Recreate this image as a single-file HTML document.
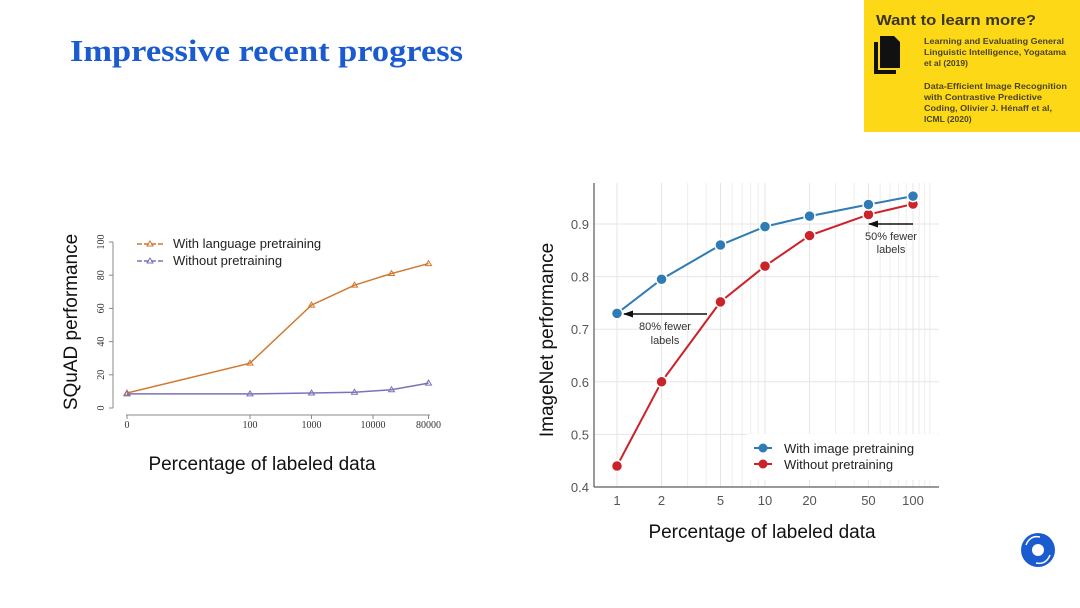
<!DOCTYPE html>
<html><head><meta charset="utf-8"><style>
html,body{margin:0;padding:0;background:#fff;}
svg{display:block;font-family:"Liberation Sans",sans-serif;}
</style></head><body>
<svg id="s" width="1080" height="608" viewBox="0 0 1080 608">
<text x="70" y="61" font-family="Liberation Serif,serif" font-weight="bold" font-size="31" fill="#1a5bd0" textLength="393" lengthAdjust="spacingAndGlyphs">Impressive recent progress</text>
<g>
<rect x="864" y="0" width="216" height="132" fill="#fcd817"/>
<text x="876" y="25" font-size="15" font-weight="bold" fill="#3a3520" textLength="160" lengthAdjust="spacingAndGlyphs">Want to learn more?</text>
<path d="M880 36 h14 l6 6 v26 h-20z" fill="#111"/><path d="M874 42 h4 v28 h18 v4 h-22z" fill="#111"/>
<g font-size="8.5" font-weight="bold" fill="#4a4520">
<text x="924" y="44" textLength="140" lengthAdjust="spacingAndGlyphs">Learning and Evaluating General</text>
<text x="924" y="55" textLength="142" lengthAdjust="spacingAndGlyphs">Linguistic Intelligence, Yogatama</text>
<text x="924" y="66">et al (2019)</text>
<text x="924" y="89" textLength="143" lengthAdjust="spacingAndGlyphs">Data-Efficient Image Recognition</text>
<text x="924" y="100" textLength="118" lengthAdjust="spacingAndGlyphs">with Contrastive Predictive</text>
<text x="924" y="111" textLength="128" lengthAdjust="spacingAndGlyphs">Coding, Olivier J. Hénaff et al,</text>
<text x="924" y="122">ICML (2020)</text>
</g></g>
<g>
<circle cx="1038" cy="550" r="17" fill="#1a5bd0"/><circle cx="1038" cy="550" r="6" fill="#fff"/>
<path d="M1026 545 q4 -10 14 -8" stroke="#fff" stroke-width="1.5" fill="none"/><path d="M1050 555 q-4 10 -14 8" stroke="#fff" stroke-width="1.5" fill="none"/>
</g>
<defs><marker id="ah" markerWidth="10" markerHeight="8" refX="9" refY="4" orient="auto" markerUnits="userSpaceOnUse"><path d="M0 0.5 L10 4 L0 7.5Z" fill="#111"/></marker></defs>
<g id="left"></g>
<g id="right"></g>
</svg>
<script>
const NS="http://www.w3.org/2000/svg";
function mk(p,t,a,txt){const e=document.createElementNS(NS,t);for(const k in a)e.setAttribute(k,a[k]);if(txt!==undefined)e.textContent=txt;p.appendChild(e);return e;}
// Left chart data
const sqX=[1,100,1000,5000,20000,80000];
const sqWith=[9,27,62,74,81,87];
const sqWithout=[8.5,8.5,9,9.5,11,15];
const sqXTicks=["0","100","1000","10000","80000"];
const sqXTickVals=[1,100,1000,10000,80000];
const sqYTicks=[0,20,40,60,80,100];
// Right chart data
const inX=[1,2,5,10,20,50,100];
const inWith=[0.73,0.795,0.86,0.895,0.915,0.937,0.953];
const inWithout=[0.44,0.60,0.752,0.82,0.878,0.918,0.938];
const inYTicks=[0.4,0.5,0.6,0.7,0.8,0.9];

const L=document.getElementById('left');
const lx=v=>127+Math.log10(v)*61.5, ly=v=>408-v*1.66;
let e=mk(L,'line',{x1:126,y1:415,x2:430,y2:415,stroke:'#888'});

sqXTickVals.forEach((v,i)=>{mk(L,'line',{x1:lx(v),y1:415,x2:lx(v),y2:419,stroke:'#888'});
 const t=mk(L,'text',{x:lx(v),y:428,'font-family':'Liberation Serif,serif','font-size':10,'text-anchor':'middle',fill:'#333'},sqXTicks[i]);
 });
e=mk(L,'line',{x1:113,y1:242,x2:113,y2:408,stroke:'#888'});

sqYTicks.forEach(v=>{mk(L,'line',{x1:109,y1:ly(v),x2:113,y2:ly(v),stroke:'#888'});
 const t=mk(L,'text',{x:0,y:0,transform:`translate(104,${ly(v)}) rotate(-90)`,'font-family':'Liberation Serif,serif','font-size':10,'text-anchor':'middle',fill:'#333'},String(v));
 });
[[sqWith,'#d0782f','series-with-pretraining'],[sqWithout,'#7a72b8','series-without-pretraining']].forEach(([d,c,n])=>{
 const g=mk(L,'g',{});
 mk(g,'polyline',{points:d.map((v,i)=>lx(sqX[i])+','+ly(v)).join(' '),fill:'none',stroke:c,'stroke-width':1.5});
 d.forEach((v,i)=>{const x=lx(sqX[i]),y=ly(v);mk(g,'path',{d:`M${x} ${y-3}L${x+3} ${y+2}L${x-3} ${y+2}Z`,fill:'none',stroke:c});});});
[['With language pretraining','#d0782f',244],['Without pretraining','#7a72b8',261]].forEach(([t,c,y])=>{
 const g=mk(L,'g',{});
 mk(g,'line',{x1:137,y1:y,x2:163,y2:y,stroke:c,'stroke-width':1.5,'stroke-dasharray':'5 2'});
 mk(g,'path',{d:`M150 ${y-3}L153 ${y+2}L147 ${y+2}Z`,fill:'none',stroke:c});
 mk(g,'text',{x:173,y:y+4,'font-size':13,fill:'#222'},t);});
e=mk(L,'text',{x:0,y:0,transform:'translate(77,322) rotate(-90)','font-size':19,'text-anchor':'middle',fill:'#111'},'SQuAD performance');

e=mk(L,'text',{x:262,y:470,'font-size':19,'text-anchor':'middle',fill:'#111'},'Percentage of labeled data');


const R=document.getElementById('right');
const rx=v=>617+Math.log10(v)*148, ry=v=>487-(v-0.4)*526;
// grid
for(let d=1;d<=100;d*=10)for(let k=1;k<10;k++){const v=d*k;if(v>100)break;const x=rx(v);
 mk(R,'line',{x1:x,y1:183,x2:x,y2:487,stroke:inX.includes(v)?'#e4e4e4':'#ededed','stroke-width':1});}
for(let k=110;k<=130;k+=10){mk(R,'line',{x1:rx(k),y1:183,x2:rx(k),y2:487,stroke:'#ededed'});}
inYTicks.forEach(v=>{mk(R,'line',{x1:594,y1:ry(v),x2:939,y2:ry(v),stroke:'#e6e6e6'});
 const t=mk(R,'text',{x:589,y:ry(v)+5,'font-size':13,'text-anchor':'end',fill:'#555'},v.toFixed(1));
 });
inX.forEach(v=>{const t=mk(R,'text',{x:rx(v),y:505,'font-size':13,'text-anchor':'middle',fill:'#555'},String(v));
 });
e=mk(R,'line',{x1:594,y1:183,x2:594,y2:487,stroke:'#333'});
e=mk(R,'line',{x1:594,y1:487,x2:939,y2:487,stroke:'#333'});
e=mk(R,'line',{x1:707,y1:314,x2:624,y2:314,stroke:'#111','stroke-width':1.5,'marker-end':'url(#ah)'});
mk(R,'text',{x:665,y:330,'font-size':11,'text-anchor':'middle',fill:'#333'},'80% fewer');
mk(R,'text',{x:665,y:344,'font-size':11,'text-anchor':'middle',fill:'#333'},'labels');
e=mk(R,'line',{x1:913,y1:224,x2:869,y2:224,stroke:'#111','stroke-width':1.5,'marker-end':'url(#ah)'});
mk(R,'text',{x:891,y:240,'font-size':11,'text-anchor':'middle',fill:'#333'},'50% fewer');
mk(R,'text',{x:891,y:253,'font-size':11,'text-anchor':'middle',fill:'#333'},'labels');
[[inWithout,'#cc2229','series-without-pretraining'],[inWith,'#2f7bb5','series-with-pretraining']].forEach(([d,c,n])=>{
 const g=mk(R,'g',{});
 mk(g,'polyline',{points:d.map((v,i)=>rx(inX[i])+','+ry(v)).join(' '),fill:'none',stroke:c,'stroke-width':2});
 d.forEach((v,i)=>mk(g,'circle',{cx:rx(inX[i]),cy:ry(v),r:5.5,fill:c,stroke:'#fff','stroke-width':1.5}));});
const lg=mk(R,'g',{});
mk(lg,'rect',{x:748,y:434,width:190,height:46,fill:'#fff'});
[['With image pretraining','#2f7bb5',448],['Without pretraining','#cc2229',464]].forEach(([t,c,y])=>{
 const g=mk(lg,'g',{});
 mk(g,'line',{x1:754,y1:y,x2:772,y2:y,stroke:c,'stroke-width':2});
 mk(g,'circle',{cx:763,cy:y,r:4.5,fill:c});
 mk(g,'text',{x:784,y:y+5,'font-size':13,fill:'#222'},t);});
e=mk(R,'text',{x:0,y:0,transform:'translate(553,340) rotate(-90)','font-size':19,'text-anchor':'middle',fill:'#111'},'ImageNet performance');

e=mk(R,'text',{x:762,y:538,'font-size':19,'text-anchor':'middle',fill:'#111'},'Percentage of labeled data');

</script>
</body></html>
